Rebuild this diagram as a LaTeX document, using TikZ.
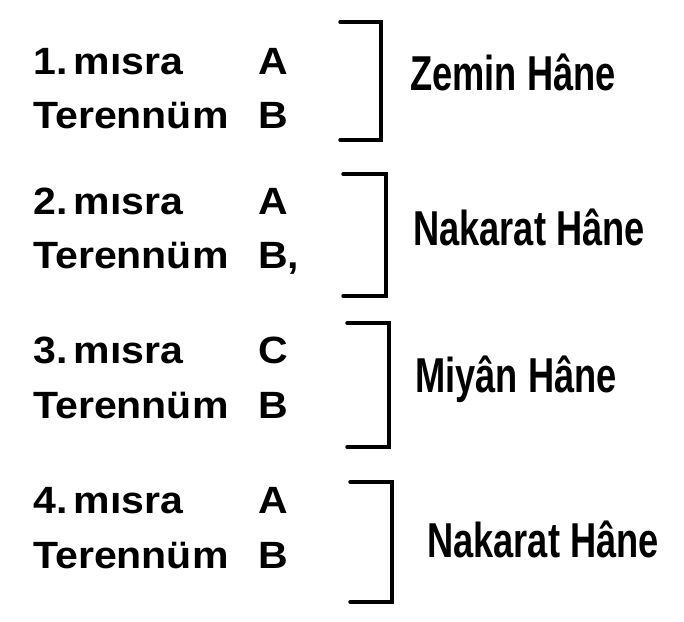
\documentclass[tikz,border=0pt]{standalone}
\usepackage{fontspec}
\setmainfont{Liberation Sans}
\newfontfamily\solfont{Liberation Sans}[FakeStretch=1.08]
\newfontfamily\hanefont{Liberation Sans}[FakeStretch=0.74]
\tikzset{
  satir/.style={anchor=base west, inner sep=0pt, font=\solfont\bfseries\fontsize{38}{38}\selectfont},
  hane/.style={anchor=base west, inner sep=0pt, font=\hanefont\bfseries\fontsize{49}{49}\selectfont},
  kose/.style={line width=3.5pt, line cap=round, line join=miter}
}

\begin{document}
\begin{tikzpicture}[x=1pt,y=-1pt]
  \useasboundingbox (0,0) rectangle (684,621);
  \def\sx{33}   % left column
  \def\hx{258}  % letter column
  \foreach \i/\y/\c in {1/74/A,2/214/A,3/363/C,4/513/A} { \node[satir] (m\i) at (\sx,\y) {\i.\kern-5pt\ mısra}; \node[satir] (a\i) at (\hx,\y) {\c}; }
  \foreach \i/\y/\c in {1/128/B,2/268/{B,},3/418/B,4/568/B} { \node[satir] (t\i) at (\sx,\y) {Terennüm}; \node[satir] (b\i) at (\hx,\y) {\c}; }
  \foreach \i/\xa/\xb/\ya/\yb in {1/340/381/22/140,2/343/386/174/296,3/347/389/323/447,4/350/392/482/602} { \draw[kose] (\xa,\ya) -| (\xb,\yb) -- (\xa,\yb); }
  \foreach \i/\x/\y/\t in {1/410/90/Zemin Hâne,2/413/245/Nakarat Hâne,3/415/392/Miyân Hâne,4/427/557/Nakarat Hâne} { \node[hane] (h\i) at (\x,\y) {\t}; }
\end{tikzpicture}
\end{document}
